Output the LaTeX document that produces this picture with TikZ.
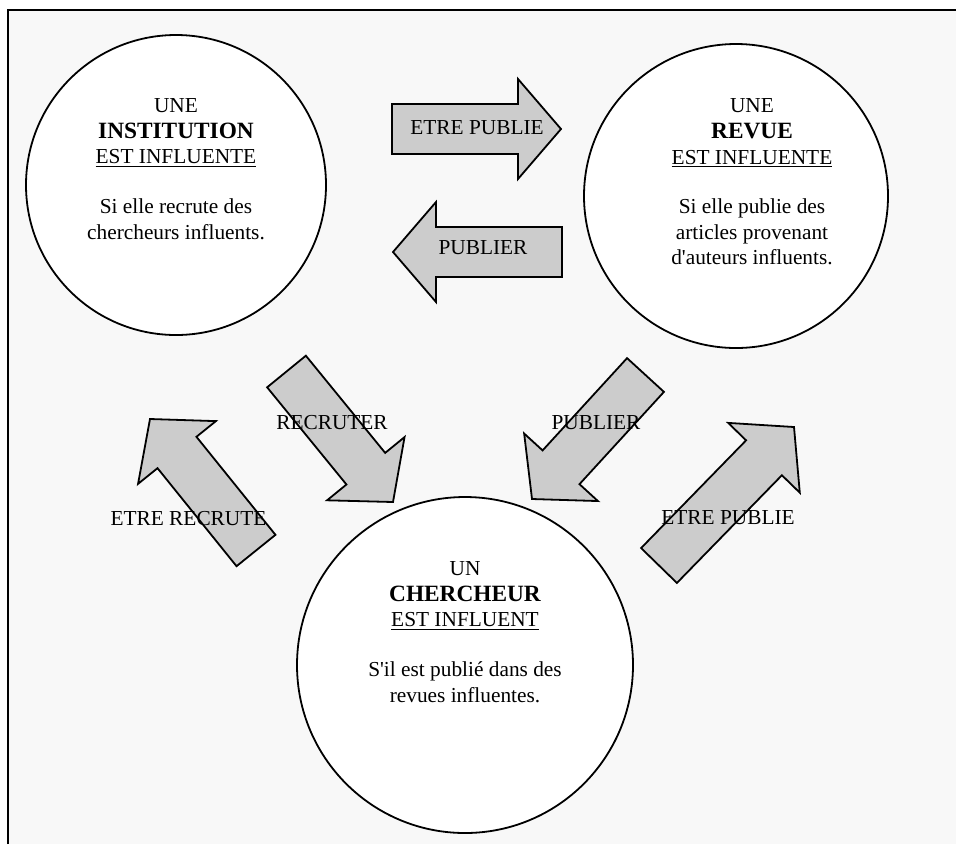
\documentclass[tikz,border=0pt]{standalone}
\usepackage{fontspec}
\setmainfont{Liberation Serif}
\usetikzlibrary{calc}
\definecolor{pagegray}{HTML}{F8F8F8}
\definecolor{arrowgray}{HTML}{CCCCCC}
\newcommand{\arrshaft}{18.75pt}
\newcommand{\arrhead}{37.5pt}
\newcommand{\arrheadlen}{32.25pt}
\newcommand{\keyword}[1]{{\fontsize{17.5}{19.2}\selectfont\bfseries #1}}
% block arrow from tail #2 to tip #3
\newcommand{\blockarrow}[3]{%
\coordinate (#1-b) at ($(#3)!\arrheadlen!(#2)$);
\draw[blockarr] ($(#2)!\arrshaft!90:(#3)$) -- ($(#1-b)!\arrshaft!90:(#3)$)
  -- ($(#1-b)!\arrhead!90:(#3)$) -- (#3) -- ($(#1-b)!\arrhead!-90:(#3)$)
  -- ($(#1-b)!\arrshaft!-90:(#3)$) -- ($(#2)!\arrshaft!-90:(#3)$) -- cycle;
}
\begin{document}
\begin{tikzpicture}[x=0.75pt, y=-0.75pt,
  bubble/.style={circle, draw, fill=white, line width=1.35pt, inner sep=0pt},
  blockarr/.style={draw, fill=arrowgray, line width=1.35pt, line join=miter},
  circtext/.style={align=center, font=\fontsize{16}{19.2}\selectfont},
  arrtext/.style={font=\fontsize{16}{19.2}\selectfont, inner sep=0pt}]
\useasboundingbox (0,0) rectangle (956,844);
\fill[white] (0,0) rectangle (956,844);
\fill[pagegray] (8,10) rectangle (956,844);
\draw[line width=1.8pt] (8,844) -- (8,10) -- (956,10);
% the three bubbles
\node[bubble, minimum size=225pt] (inst) at (176,185) {};
\node[bubble, minimum size=228pt] (revue) at (736,196) {};
\node[bubble, minimum size=252pt] (cherch) at (465,665) {};
\node[circtext] (insttxt) at (176,169) {UNE\\ \keyword{INSTITUTION}\\ \underline{EST INFLUENTE}\\[18pt]
  Si elle recrute des\\ chercheurs influents.};
\node[circtext] (revuetxt) at (752,182) {UNE\\ \keyword{REVUE}\\ \underline{EST INFLUENTE}\\[18pt]
  Si elle publie des\\ articles provenant\\ d\textquotesingle auteurs influents.};
\node[circtext] (cherchtxt) at (465,632) {UN\\ \keyword{CHERCHEUR}\\ \underline{EST INFLUENT}\\[18pt]
  S\textquotesingle il est publié dans des\\ revues influentes.};
% arrow ends
\coordinate (pubA-t) at (392,129);   \coordinate (pubA-h) at (561,129);
\coordinate (pubB-t) at (562,252);   \coordinate (pubB-h) at (393,252);
\coordinate (recA-t) at (286.5,371.5); \coordinate (recA-h) at (393,502);
\coordinate (pubC-t) at (645.5,375); \coordinate (pubC-h) at (532,499);
\coordinate (recB-t) at (256,550.5); \coordinate (recB-h) at (150,419);
\coordinate (pubD-t) at (659,565.5); \coordinate (pubD-h) at (794,427);
\blockarrow{pubA}{pubA-t}{pubA-h}
\blockarrow{pubB}{pubB-t}{pubB-h}
\blockarrow{recA}{recA-t}{recA-h}
\blockarrow{pubC}{pubC-t}{pubC-h}
\blockarrow{recB}{recB-t}{recB-h}
\blockarrow{pubD}{pubD-t}{pubD-h}
% labels
\node[arrtext] (pubAlbl) at (477,128) {ETRE PUBLIE};
\node[arrtext] (pubBlbl) at (483,248) {PUBLIER};
\node[arrtext] (recAlbl) at (332,423) {RECRUTER};
\node[arrtext] (pubClbl) at (596,423) {PUBLIER};
\node[arrtext] (recBlbl) at (188.5,519) {ETRE RECRUTE};
\node[arrtext] (pubDlbl) at (728,518) {ETRE PUBLIE};
\end{tikzpicture}
\end{document}
